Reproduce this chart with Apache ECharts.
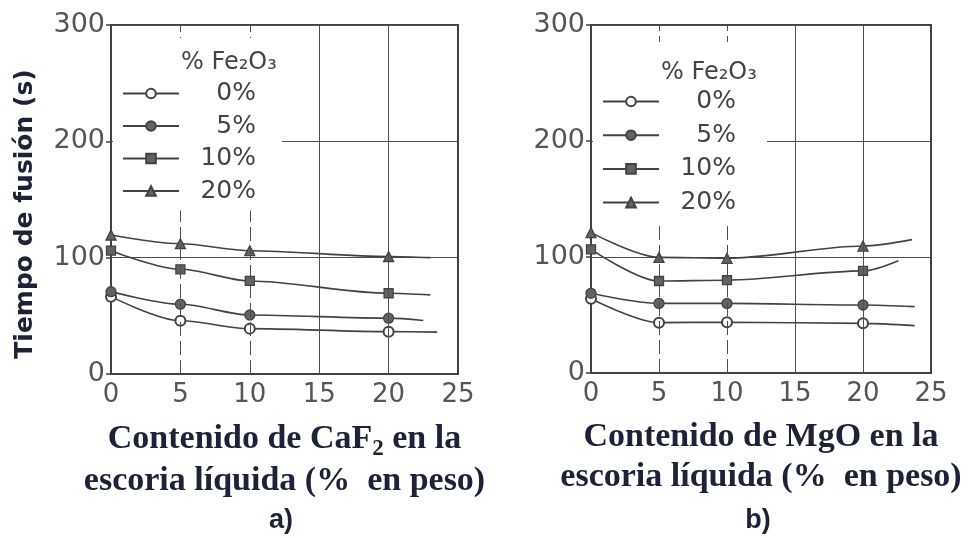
<!DOCTYPE html>
<html>
<head>
<meta charset="utf-8">
<script src="https://cdn.jsdelivr.net/npm/echarts@6/dist/echarts.min.js"></script>
<style>
  html, body { margin: 0; padding: 0; background: #ffffff; }
  #chart { width: 969px; height: 538px; }
</style>
</head>
<body>
<div id="chart"></div>
<script>
// Fe2O3 level of each curve and its marker
const seriesNames = ['0%', '5%', '10%', '20%'];
const seriesSymbols = ['emptyCircle', 'circle', 'rect', 'triangle'];

// Axis ticks
const xTicks = [0, 5, 10, 15, 20, 25];
const yTicks = [0, 100, 200, 300];

// Additive content of the measured slags (% by weight)
const sampleX = [0, 5, 10, 20];

// a) melting time (s) against CaF2 content
const cafTime0 = [66.5, 45.8, 39, 36.4];
const cafTime5 = [70.8, 60, 50.7, 48];
const cafTime10 = [106, 90, 80, 69.4];
const cafTime20 = [119.5, 112, 106, 101];
// end of each fitted curve [x, time]
const cafTail0 = [23.5, 36];
const cafTail5 = [22.5, 46];
const cafTail10 = [23, 68];
const cafTail20 = [23, 100];

// b) melting time (s) against MgO content
const mgoTime0 = [64, 43.4, 43.8, 42.8];
const mgoTime5 = [68.7, 60, 60, 58.6];
const mgoTime10 = [106.6, 79.3, 80, 88];
const mgoTime20 = [121, 99.7, 98.9, 109.5];
const mgoTail0 = [23.8, 40.8];
const mgoTail5 = [23.8, 57.2];
const mgoTail10 = [22.6, 96.8];
const mgoTail20 = [23.6, 115];

const ink = '#424242';
const tickGray = '#555555';
const titleInk = '#1d2238';
const gridInk = '#4d4d4d';

function curveData(values, tail) {
  const pts = sampleX.map((x, i) => [x, values[i]]);
  pts.push({ value: tail, symbol: 'none' });
  return pts;
}

// vertical guide lines at the inner x ticks: the first two dashed, the rest solid
function verticalGuides() {
  return {
    silent: true,
    symbol: 'none',
    label: { show: false },
    data: xTicks.slice(1, -1).map((v, i) => ({
      xAxis: v,
      lineStyle: { color: gridInk, width: 1, type: i < 2 ? [14, 5] : 'solid' }
    }))
  };
}

function makeSeries(gridIdx, groups) {
  return groups.map((g, i) => ({
    name: seriesNames[i],
    type: 'line',
    xAxisIndex: gridIdx,
    yAxisIndex: gridIdx,
    smooth: 0.3,
    smoothMonotone: 'x',
    symbol: seriesSymbols[i],
    symbolSize: seriesSymbols[i] === 'rect' ? 9 : 10,
    showAllSymbol: true,
    lineStyle: { color: ink, width: 1.6 },
    itemStyle: { color: seriesSymbols[i] === 'emptyCircle' ? ink : '#626262', borderColor: ink, borderWidth: 1.3 },
    emphasis: { disabled: true },
    markLine: i === 0 ? verticalGuides() : undefined,
    data: curveData(g[0], g[1])
  }));
}

function xAxisFor(gridIdx, label) {
  return {
    type: 'value', gridIndex: gridIdx,
    min: xTicks[0], max: xTicks[xTicks.length - 1], interval: xTicks[1] - xTicks[0],
    axisLine: { show: true, lineStyle: { color: ink, width: 2 } },
    axisTick: { show: false },
    axisLabel: { fontSize: 26, color: tickGray, fontFamily: 'DejaVu Sans', margin: 8 },
    splitLine: { show: false },
    name: '{t|Contenido de ' + label[0] + '}' + (label[1] ? '{s|' + label[1] + '}' : '') + '{t| en la}\n{t|escoria líquida (%  en peso)}',
    nameLocation: 'middle',
    nameGap: 44,
    nameTextStyle: {
      rich: {
        t: { fontFamily: 'Liberation Serif', fontWeight: 'bold', fontSize: 34, lineHeight: 40, color: titleInk },
        s: { fontFamily: 'Liberation Serif', fontWeight: 'bold', fontSize: 23, color: titleInk, padding: [20, 0, 0, 0] }
      }
    }
  };
}

function yAxisFor(gridIdx) {
  return {
    type: 'value', gridIndex: gridIdx,
    min: yTicks[0], max: yTicks[yTicks.length - 1], interval: yTicks[1] - yTicks[0],
    axisLine: { show: true, lineStyle: { color: ink, width: 2 } },
    axisTick: { show: true, length: 5, lineStyle: { color: ink, width: 1.5 } },
    axisLabel: { fontSize: 27, color: tickGray, fontFamily: 'DejaVu Sans', margin: 6 },
    splitLine: { show: true, lineStyle: { color: gridInk, width: 1 } }
  };
}

function legendFor(left, top, gap) {
  return {
    orient: 'vertical',
    left: left, top: top,
    z: 20,
    padding: [0, 0, 0, 0],
    itemWidth: 56, itemHeight: 12, itemGap: gap, itemTextGap: 4,
    backgroundColor: '#ffffff',
    selectedMode: false,
    data: seriesNames,
    formatter: '{n|{name}}',
    textStyle: {
      rich: { n: { width: 72, align: 'right', fontSize: 25, lineHeight: 20, fontFamily: 'DejaVu Sans', color: '#444' } }
    }
  };
}

const chart = echarts.init(document.getElementById('chart'), null, { renderer: 'canvas' });

const leftLegend = legendFor(113, 38, 7.5);
leftLegend.padding = [43, 26, 7, 9];
const rightLegend = legendFor(593, 42, 8.7);
rightLegend.padding = [47, 31, 8, 9];

chart.setOption({
  backgroundColor: '#ffffff',
  animation: false,
  grid: [
    { left: 111, top: 25, width: 347, height: 349, show: true, borderColor: ink, borderWidth: 2, backgroundColor: 'transparent' },
    { left: 591, top: 25, width: 340, height: 348, show: true, borderColor: ink, borderWidth: 2, backgroundColor: 'transparent' }
  ],
  xAxis: [xAxisFor(0, ['CaF', '2']), xAxisFor(1, ['MgO', ''])],
  yAxis: [yAxisFor(0), yAxisFor(1)],
  legend: [leftLegend, rightLegend],
  series: makeSeries(0, [
    [cafTime0, cafTail0], [cafTime5, cafTail5], [cafTime10, cafTail10], [cafTime20, cafTail20]
  ]).concat(makeSeries(1, [
    [mgoTime0, mgoTail0], [mgoTime5, mgoTail5], [mgoTime10, mgoTail10], [mgoTime20, mgoTail20]
  ])),
  graphic: [
    { type: 'text', x: 25, y: 214, rotation: Math.PI / 2, z: 30,
      style: { text: 'Tiempo de fusión (s)', font: 'bold 25px "DejaVu Sans"', fill: titleInk, align: 'center', verticalAlign: 'middle' } },
    { type: 'text', x: 181, y: 63, z: 30,
      style: { text: '% Fe₂O₃', font: '24px "DejaVu Sans"', fill: '#444', verticalAlign: 'middle' } },
    { type: 'text', x: 661, y: 73, z: 30,
      style: { text: '% Fe₂O₃', font: '24px "DejaVu Sans"', fill: '#444', verticalAlign: 'middle' } },
    { type: 'text', x: 281, y: 521, z: 30,
      style: { text: 'a)', font: 'bold 27px "Liberation Sans"', fill: titleInk, align: 'center', verticalAlign: 'middle' } },
    { type: 'text', x: 758, y: 521, z: 30,
      style: { text: 'b)', font: 'bold 27px "Liberation Sans"', fill: titleInk, align: 'center', verticalAlign: 'middle' } }
  ]
});
</script>
</body>
</html>
